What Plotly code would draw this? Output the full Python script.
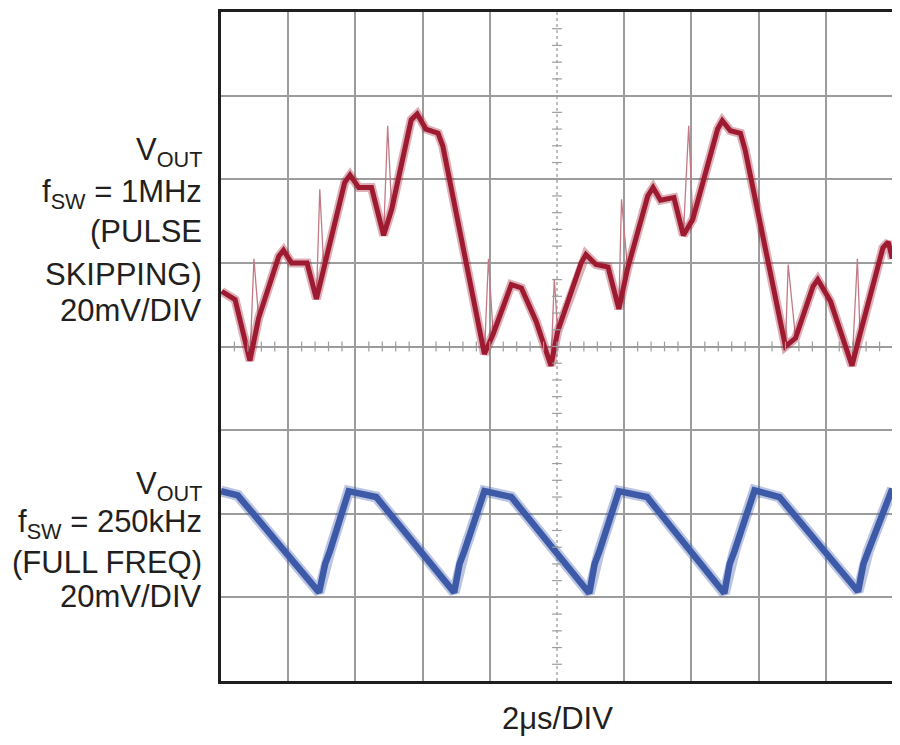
import numpy as np
import plotly.graph_objects as go

# scope trace values, in divisions (x: 2us/div, y: 20mV/div, 0 = bottom of screen)
red_x = [0.01, 0.21, 0.43, 0.49, 0.56, 0.86, 0.93, 1.05, 1.28, 1.42, 1.47, 1.53, 1.84,
         1.92, 2.05, 2.24, 2.42, 2.48, 2.54, 2.83, 2.92, 3.05, 3.23, 3.30, 3.92, 3.98,
         4.05, 4.32, 4.47, 4.69, 4.91, 4.96, 5.01, 5.36, 5.43, 5.58, 5.76, 5.92, 5.96,
         6.05, 6.35, 6.43, 6.54, 6.74, 6.88, 6.96, 7.02, 7.39, 7.46, 7.58, 7.73, 7.80,
         8.40, 8.44, 8.55, 8.81, 8.88, 9.07, 9.39, 9.47, 9.51, 9.85, 9.93, 9.99]
red_y = [4.66, 4.56, 3.83, 5.05, 4.34, 5.08, 5.15, 5.00, 5.00, 4.57, 5.88, 4.93, 5.96,
         6.05, 5.90, 5.90, 5.33, 6.64, 5.64, 6.71, 6.78, 6.60, 6.55, 6.40, 3.91, 5.05,
         4.15, 4.74, 4.70, 4.30, 3.77, 4.81, 4.18, 5.00, 5.10, 4.98, 4.95, 4.45, 5.76,
         4.93, 5.80, 5.90, 5.75, 5.78, 5.33, 6.64, 5.52, 6.60, 6.70, 6.58, 6.55, 6.35,
         4.00, 4.98, 4.10, 4.72, 4.80, 4.54, 3.77, 5.05, 4.15, 5.18, 5.25, 5.05]
red_spike = [0, 0, 0, 1, 0, 0, 0, 0, 0, 0, 1, 0, 0,
             0, 0, 0, 0, 1, 0, 0, 0, 0, 0, 0, 0, 1,
             0, 0, 0, 0, 0, 1, 0, 0, 0, 0, 0, 0, 1,
             0, 0, 0, 0, 0, 0, 1, 0, 0, 0, 0, 0, 0,
             0, 1, 0, 0, 0, 0, 0, 1, 0, 0, 0, 0]

blue_x = [0.00, 0.25, 1.46, 1.55, 1.62, 1.90, 2.31, 3.47, 3.55, 3.62, 3.92, 4.32,
          5.48, 5.56, 5.63, 5.92, 6.34, 7.49, 7.57, 7.64, 7.94, 8.31, 9.48, 9.56,
          9.63, 9.99]
blue_y = [2.27, 2.22, 1.06, 1.40, 1.55, 2.27, 2.20, 1.06, 1.40, 1.55, 2.27, 2.20,
          1.05, 1.40, 1.55, 2.27, 2.20, 1.05, 1.40, 1.55, 2.28, 2.20, 1.07, 1.40,
          1.55, 2.30]

top_label = ["V<sub>OUT</sub>", "f<sub>SW</sub> = 1MHz", "(PULSE", "SKIPPING)", "20mV/DIV"]
bottom_label = ["V<sub>OUT</sub>", "f<sub>SW</sub> = 250kHz", "(FULL FREQ)", "20mV/DIV"]
x_label = "2μs/DIV"

RED = "#9d1a30"
BLUE = "#3d5aa8"
GRID = "#9c9c9c"
FONT = "Liberation Sans, Arial, sans-serif"

fig = go.Figure()

# thin ringing/spike path
fig.add_trace(go.Scatter(x=red_x, y=red_y, mode="lines",
                         line=dict(color="#c37a86", width=1.3), hoverinfo="skip"))
# noisy body: faint wide halo + dark core
body_x = [x for x, s in zip(red_x, red_spike) if not s]
body_y = [y for y, s in zip(red_y, red_spike) if not s]
fig.add_trace(go.Scatter(x=body_x, y=body_y, mode="lines",
                         line=dict(color="rgba(157,26,48,0.35)", width=9),
                         hoverinfo="skip"))
fig.add_trace(go.Scatter(x=body_x, y=body_y, mode="lines",
                         line=dict(color=RED, width=5)))
fig.add_trace(go.Scatter(x=blue_x, y=blue_y, mode="lines",
                         line=dict(color="rgba(61,90,168,0.35)", width=11),
                         hoverinfo="skip"))
fig.add_trace(go.Scatter(x=blue_x, y=blue_y, mode="lines",
                         line=dict(color=BLUE, width=6.5)))

# centre graticule: dotted vertical, solid horizontal, both with minor ticks
fig.add_shape(type="line", x0=5, x1=5, y0=0, y1=8, xref="x", yref="y",
              line=dict(color=GRID, width=1.3, dash="dot"), layer="below")
minor = np.arange(0.2, 10, 0.2)
fig.add_trace(go.Scatter(x=minor, y=[4] * len(minor), mode="markers",
                         marker=dict(symbol="line-ns", size=7,
                                     line=dict(color=GRID, width=1.2)),
                         hoverinfo="skip"))
minor_y = np.arange(0.2, 8, 0.2)
fig.add_trace(go.Scatter(x=[5] * len(minor_y), y=minor_y, mode="markers",
                         marker=dict(symbol="line-ew", size=7,
                                     line=dict(color=GRID, width=1.2)),
                         hoverinfo="skip"))

for txt, yy in zip(top_label, [6.33, 5.82, 5.37, 4.86, 4.43]):
    fig.add_annotation(text=txt, x=-0.026, xref="paper", y=yy, yref="y",
                       xanchor="right", yanchor="middle", showarrow=False,
                       font=dict(size=31, color="#231f20", family=FONT))
for txt, yy in zip(bottom_label, [2.33, 1.88, 1.42, 1.01]):
    fig.add_annotation(text=txt, x=-0.026, xref="paper", y=yy, yref="y",
                       xanchor="right", yanchor="middle", showarrow=False,
                       font=dict(size=31, color="#231f20", family=FONT))
fig.add_annotation(text=x_label, x=5, xref="x", y=-0.056, yref="paper",
                   xanchor="center", yanchor="middle", showarrow=False,
                   font=dict(size=31, color="#231f20", family=FONT))

# page body adds a small offset, so margins are shifted to compensate
fig.update_layout(
    width=900, height=745,
    margin=dict(l=213, r=15, t=1, b=72),
    paper_bgcolor="white", plot_bgcolor="white",
    showlegend=False,
    xaxis=dict(range=[0, 10], tickvals=[1, 2, 3, 4, 6, 7, 8, 9], showticklabels=False,
               ticks="", showgrid=True, gridcolor=GRID, gridwidth=1.5, zeroline=False,
               showline=True, linecolor="#1e1e1e", linewidth=2.5, mirror=True),
    yaxis=dict(range=[0, 8], tickvals=[1, 2, 3, 4, 5, 6, 7], showticklabels=False,
               ticks="", showgrid=True, gridcolor=GRID, gridwidth=1.5, zeroline=False,
               showline=True, linecolor="#1e1e1e", linewidth=2.5, mirror=True),
)

fig.write_html("out.html")
